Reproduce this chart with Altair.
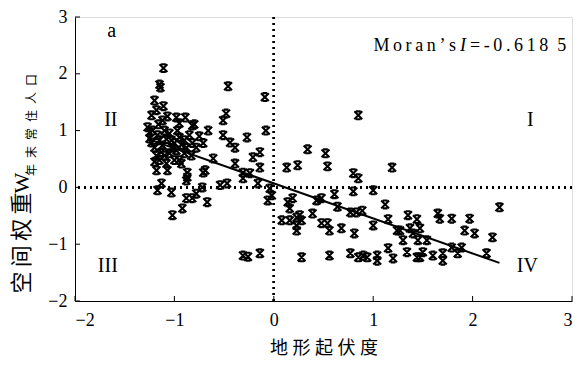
import altair as alt
import pandas as pd

# ---- data (x: 地形起伏度, y: spatial lag) ----
xs = [-1.11, -1.15, -1.14, -1.20, -1.11, -1.23, -1.18, -1.07, -1.16, -1.27,
      -0.98, -0.89, -0.80, -0.66, -0.46, -0.09, -0.48, -0.51, -0.51, -0.44,
      -0.39, -0.27, -0.08, 0.34, -0.14, -0.21, -0.71, -0.82, -1.25, -1.05,
      -0.97, -0.95, -1.20, -1.02, -0.88, -0.61, -1.23, -1.18, -1.12, -0.98,
      -0.83, -0.39, -0.14, -1.18, -1.08, -1.07, -0.93, -0.87, -0.87, -0.71,
      -0.88, -0.31, -0.24, -0.31, 0.13, 0.24, -0.16, -0.54, -0.47, -0.72,
      -1.13, -1.17, -1.03, -0.04, -0.02, -0.06, -0.78, -0.82, -0.88, -0.67,
      -0.92, -1.02, 0.14, 0.19, 0.16, 0.23, 0.26, 0.08, 0.16, 0.23,
      0.23, 0.39, 0.43, -0.31, -0.26, -0.14, 0.28, 0.85, 0.52, 0.54,
      0.80, 0.85, 1.19, 0.80, 1.00, 0.28, 0.48, 0.61, 0.64, 0.77,
      0.83, 0.89, 0.48, 0.54, 0.56, 0.68, 0.81, 1.00, 1.12, 1.15,
      1.24, 1.27, 1.35, 1.44, 1.30, 1.37, 1.47, 1.40, 1.45, 1.54,
      1.65, 1.67, 1.79, 1.97, 1.92, 2.02, 1.79, 1.89, 1.85, 2.27,
      2.20, 2.14, 0.56, 0.77, 0.85, 0.90, 0.94, 1.04, 1.04, 1.15,
      1.20, 1.34, 1.44, 1.47, 1.50, 1.60, 1.70, 1.70,
      -1.03, -1.10, -0.95, -0.69, -0.95, -0.82, -1.25, -1.15, -1.10, -0.90,
      -0.85, -1.00, -1.15,
      -1.22, -1.17, -1.08, -1.00, -0.93, -1.13, -1.05, -0.90, -1.20, -0.78,
      -0.75, -1.12]
ys = [2.10, 1.81, 1.76, 1.53, 1.43, 1.27, 1.36, 1.25, 1.11, 1.06,
      1.23, 1.23, 1.11, 1.00, 1.78, 1.59, 1.30, 1.18, 0.92, 0.79,
      0.70, 0.88, 1.00, 0.67, 0.62, 0.53, 0.78, 0.78, 0.86, 0.95,
      1.00, 0.88, 0.70, 0.70, 0.70, 0.51, 0.79, 0.56, 0.74, 0.65,
      0.56, 0.42, 0.35, 0.30, 0.42, 0.30, 0.42, 0.26, 0.18, 0.26,
      0.12, 0.26, 0.25, 0.16, 0.35, 0.39, 0.07, 0.04, 0.07, 0.00,
      0.07, -0.05, -0.09, -0.02, -0.14, -0.23, -0.11, -0.19, -0.19, -0.26,
      -0.37, -0.49, -0.26, -0.19, -0.37, -0.53, -0.49, -0.58, -0.58, -0.67,
      -0.76, -0.46, -0.23, -1.20, -1.22, -1.16, -1.23, 1.27, 0.60, 0.37,
      0.25, 0.16, 0.35, -0.07, -0.05, -0.58, -0.19, -0.12, -0.34, -0.44,
      -0.44, -0.41, -0.63, -0.63, -0.76, -0.72, -0.81, -0.67, -0.30, -0.56,
      -0.76, -0.76, -0.49, -0.56, -0.93, -0.72, -0.72, -0.81, -0.93, -0.93,
      -0.46, -0.55, -0.55, -0.55, -0.76, -0.81, -1.06, -1.06, -1.16, -0.35,
      -0.88, -1.16, -1.20, -1.16, -1.23, -1.20, -1.23, -1.20, -1.29, -1.07,
      -1.25, -1.14, -1.23, -1.23, -1.14, -1.20, -1.16, -1.29,
      0.83, 0.56, 0.48, 0.30, 1.13, 1.09, 0.97, 0.83, 1.00, 0.83,
      0.92, 0.48, 0.48,
      1.00, 0.92, 0.85, 0.78, 0.75, 0.62, 0.60, 0.60, 0.45, 0.70,
      0.90, 1.18]
tick_values = [-2, -1, 0, 1, 2, 3]
quad_labels = ["II", "I", "III", "IV", "a"]
quad_x = [-1.64, 2.58, -1.67, 2.55, -1.63]
quad_y = [1.18, 1.18, -1.39, -1.39, 2.76]

W, H = 497, 284
serif = "Liberation Serif"
cjk = "Noto Sans CJK SC"
TS = "\u2009"


def spaced(s, sep=TS):
    return sep.join(list(s))


pts = pd.DataFrame({"x": xs, "y": ys})
ticks = pd.DataFrame({"x": tick_values, "y": tick_values})
quads = pd.DataFrame({"x": quad_x, "y": quad_y, "t": quad_labels})

xscale = alt.Scale(domain=[-2, 3], nice=False, zero=False)
yscale = alt.Scale(domain=[-2, 3], nice=False, zero=False)

xaxis = alt.Axis(values=tick_values, format="d", ticks=False, grid=False, domainColor="black",
                 domainWidth=1, labelFont=serif, labelFontSize=18, labelColor="black",
                 labelPadding=10, title=spaced("地形起伏度", "\u2005"), titleFont=cjk,
                 titleFontSize=18, titleFontWeight="normal", titleColor="black",
                 titlePadding=10)
yaxis = alt.Axis(values=tick_values, format="d", ticks=False, grid=False, domainColor="black",
                 domainWidth=1, labelFont=serif, labelFontSize=18, labelColor="black",
                 labelPadding=8, title=None)


def X(f="x"):
    return alt.X(f"{f}:Q", scale=xscale, axis=xaxis)


def Y(f="y"):
    return alt.Y(f"{f}:Q", scale=yscale, axis=yaxis)


marker = "M-1,-1L1,1M1,-1L-1,1M-0.6,-1L0.6,-1M-0.6,1L0.6,1"

points = alt.Chart(pts).mark_point(shape=marker, filled=False, color="black",
                                   strokeWidth=2.1, size=62, opacity=1).encode(x=X(), y=Y())

reg = alt.Chart(pts).transform_regression("x", "y").mark_line(
    color="black", strokeWidth=2).encode(x=X(), y=Y())

vline = alt.Chart(ticks).mark_rule(color="black", strokeWidth=2, strokeDash=[2, 4]).encode(
    x=alt.datum(0, scale=xscale))
hline = alt.Chart(ticks).mark_rule(color="black", strokeWidth=2, strokeDash=[2, 4]).encode(
    y=alt.datum(0, scale=yscale))

xticks = alt.Chart(ticks).mark_rule(color="black", strokeWidth=1).encode(
    x=X(), y=alt.value(H), y2=alt.value(H - 5))
yticks = alt.Chart(ticks).mark_rule(color="black", strokeWidth=1).encode(
    y=Y(), x=alt.value(0), x2=alt.value(5))

qtext = alt.Chart(quads).mark_text(font=serif, fontSize=20, color="black",
                                   align="center", baseline="middle").encode(
    x=X(), y=Y(), text="t:N")

tdf = pd.DataFrame({"k": [0]})
m1 = alt.Chart(tdf).mark_text(font=serif, fontSize=18, color="black", align="right",
                              baseline="alphabetic", text=spaced("Moran’s")).encode(
    x=alt.value(381), y=alt.value(34))
m2 = alt.Chart(tdf).mark_text(font=serif, fontSize=18, fontStyle="italic", color="black",
                              align="left", baseline="alphabetic", text="I").encode(
    x=alt.value(385), y=alt.value(34))
m3 = alt.Chart(tdf).mark_text(font=serif, fontSize=18, color="black", align="left",
                              baseline="alphabetic", text=spaced("=-0.618") + "\u2002" + "5").encode(
    x=alt.value(395), y=alt.value(34))

yt1 = alt.Chart(tdf).mark_text(font=cjk, fontSize=22, color="black", align="center",
                               baseline="middle", angle=270, text=spaced("空间权重")).encode(
    x=alt.value(-53), y=alt.value(226))
yt2 = alt.Chart(tdf).mark_text(font=serif, fontSize=22, color="black", align="center",
                               baseline="middle", angle=270, text="W").encode(
    x=alt.value(-53), y=alt.value(166))
yt3 = alt.Chart(tdf).mark_text(font=cjk, fontSize=12, color="black", align="center",
                               baseline="middle", angle=270,
                               text=spaced("年末常住人口", "\u2002")).encode(
    x=alt.value(-43), y=alt.value(108))

chart = alt.layer(hline, vline, reg, points, xticks, yticks, qtext, m1, m2, m3,
                  yt1, yt2, yt3).properties(
    width=W, height=H,
    autosize=alt.AutoSizeParams(type="none"),
    padding={"left": 75, "top": 17, "right": 9, "bottom": 69},
).configure_view(stroke=None).configure(background="white")

chart.save("out.html", embed_options={"renderer": "svg", "actions": False})
